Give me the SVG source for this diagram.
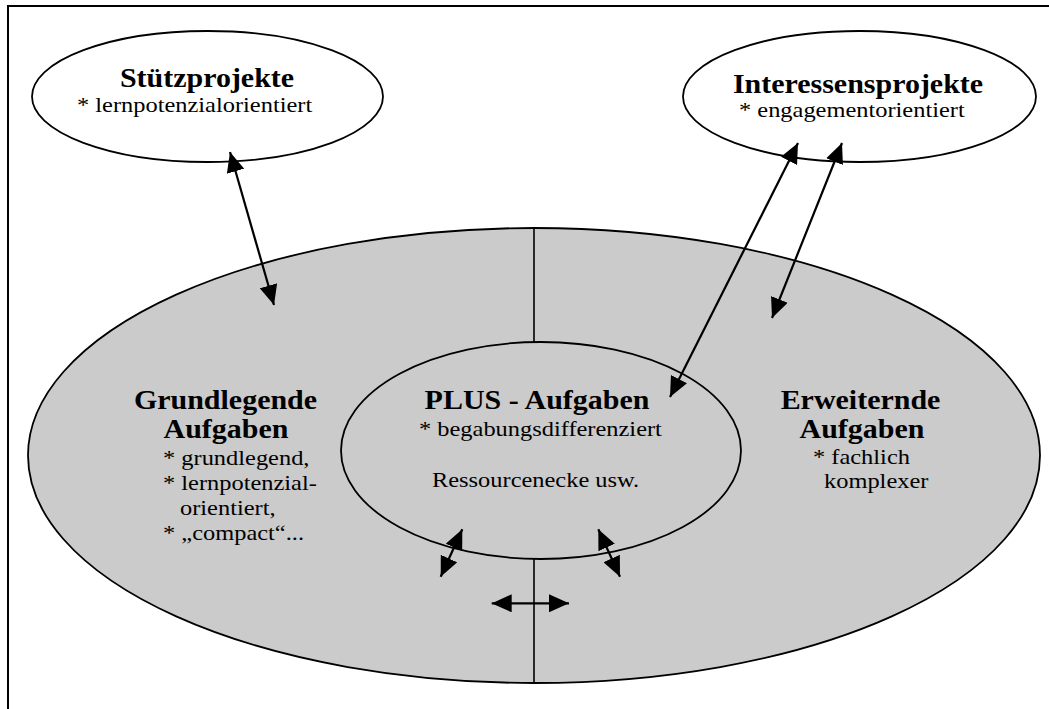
<svg xmlns="http://www.w3.org/2000/svg" width="1049" height="709" viewBox="0 0 1049 709">
  <style>
    .node { stroke: #000; stroke-width: 1.8; }
    .white { fill: #fff; }
    .grey { fill: #cbcbcb; }
    .div { stroke: #000; stroke-width: 1.6; fill: none; }
    .conn { stroke: #000; stroke-width: 2.2; fill: none; marker-start: url(#ah); marker-end: url(#ah); }
    .b { font-family: "Liberation Serif", "Times New Roman", serif; font-weight: bold; font-size: 27px; fill: #000; }
    .r { font-family: "Liberation Serif", "Times New Roman", serif; font-size: 22px; fill: #000; }
    .m { text-anchor: middle; }
  </style>
  <defs>
    <marker id="ah" markerUnits="userSpaceOnUse" markerWidth="20" markerHeight="18" refX="20" refY="9" orient="auto-start-reverse" viewBox="0 0 20 18">
      <path d="M0,0 L20,9 L0,18 z" fill="#000"/>
    </marker>
  </defs>
  <rect width="1049" height="709" fill="#fff"/>
  <path d="M8,709 V6 H1049" fill="none" stroke="#000" stroke-width="2"/>

  <g id="aufgaben-bereich">
    <ellipse class="node grey" cx="534" cy="455.5" rx="506" ry="227.5"/>
    <line class="div" x1="534" y1="228" x2="534" y2="342"/>
    <line class="div" x1="534" y1="559" x2="534" y2="683"/>
  </g>

  <g id="grundlegende">
    <text class="b m" transform="translate(225.5,409) scale(1.11,1)">Grundlegende</text>
    <text class="b m" transform="translate(226,438) scale(1.11,1)">Aufgaben</text>
    <text class="r" transform="translate(163,465) scale(1.11,1)">* grundlegend,</text>
    <text class="r" transform="translate(163,490) scale(1.11,1)">* lernpotenzial-</text>
    <text class="r" transform="translate(180,515) scale(1.11,1)">orientiert,</text>
    <text class="r" transform="translate(163,540) scale(1.11,1)">* „compact“...</text>
  </g>

  <g id="erweiternde">
    <text class="b m" transform="translate(860.5,409) scale(1.11,1)">Erweiternde</text>
    <text class="b m" transform="translate(862,438) scale(1.11,1)">Aufgaben</text>
    <text class="r" transform="translate(813,464) scale(1.11,1)">* fachlich</text>
    <text class="r" transform="translate(824,488) scale(1.11,1)">komplexer</text>
  </g>

  <g id="plus">
    <ellipse class="node grey" cx="541" cy="450.5" rx="200" ry="108.5"/>
    <text class="b m" transform="translate(537,409) scale(1.11,1)">PLUS - Aufgaben</text>
    <text class="r" transform="translate(419,436) scale(1.11,1)">* begabungsdifferenziert</text>
    <text class="r" transform="translate(432,487) scale(1.11,1)">Ressourcenecke usw.</text>
  </g>

  <g id="stuetzprojekte">
    <ellipse class="node white" cx="207.5" cy="96.5" rx="175.5" ry="65.5"/>
    <text class="b m" transform="translate(207,87) scale(1.11,1)">Stützprojekte</text>
    <text class="r" transform="translate(77,112) scale(1.11,1)">* lernpotenzialorientiert</text>
  </g>

  <g id="interessensprojekte">
    <ellipse class="node white" cx="859.5" cy="96.5" rx="176.5" ry="65.5"/>
    <text class="b m" transform="translate(858,93) scale(1.11,1)">Interessensprojekte</text>
    <text class="r" transform="translate(739,117) scale(1.11,1)">* engagementorientiert</text>
  </g>

  <g id="connectors">
    <line class="conn" x1="230" y1="152" x2="274" y2="305"/>
    <line class="conn" x1="798" y1="143" x2="670" y2="397"/>
    <line class="conn" x1="842" y1="143" x2="772" y2="318"/>
    <line class="conn" x1="462.3" y1="529.3" x2="440.7" y2="576.7"/>
    <line class="conn" x1="598.3" y1="529.3" x2="620" y2="576.7"/>
    <line class="conn" x1="491.7" y1="603.3" x2="569" y2="603.3"/>
  </g>
</svg>
